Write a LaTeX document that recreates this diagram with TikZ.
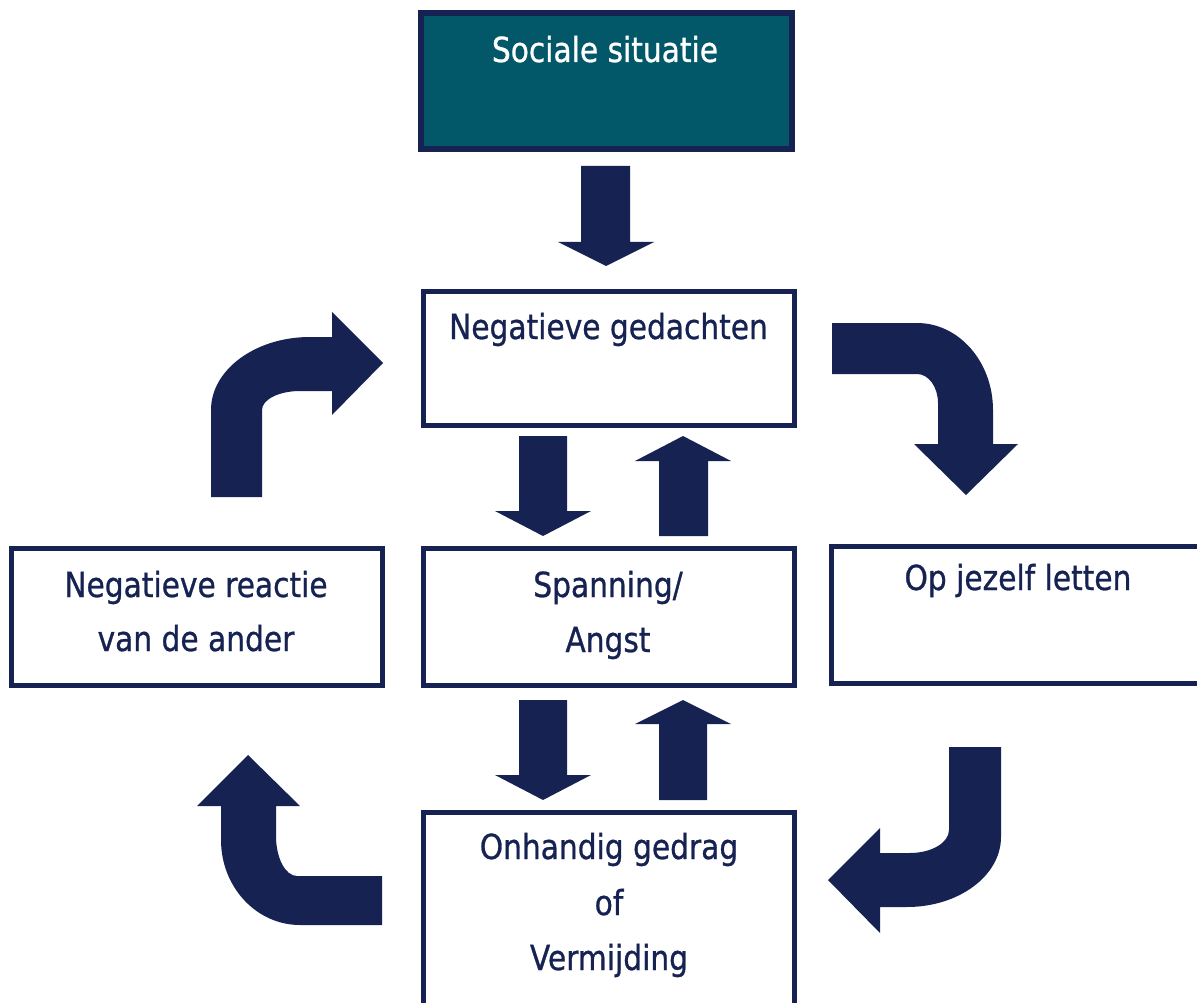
\documentclass[tikz,border=0pt]{standalone}
\usepackage{fontspec}
\setmainfont{DejaVu Sans}[FakeStretch=0.86,FakeBold=0.8]
\definecolor{navy}{RGB}{21,34,82}
\definecolor{teal}{RGB}{2,87,104}
\begin{document}
\begin{tikzpicture}[x=1pt,y=-1pt,
  box/.style={draw=navy,line width=5pt,fill=white,inner sep=0pt},
  topbox/.style={draw=navy,line width=6pt,fill=teal,inner sep=0pt},
  lbl/.style={anchor=base,inner sep=0pt,text=navy,font=\fontsize{34.5}{40}\selectfont},
  wlbl/.style={lbl,text=white},
  blk/.style={fill=navy,draw=none}]
\useasboundingbox (0,0) rectangle (1197,1003);
\fill[white] (0,0) rectangle (1197,1003);
% boxes
\node[topbox,minimum width=371pt,minimum height=136pt] (top) at (606.5,81) {};
\node[box,minimum width=371pt,minimum height=134pt] (ng) at (609,358.5) {};
\node[box,minimum width=371pt,minimum height=137pt] (sp) at (609,617) {};
\node[box,minimum width=371pt,minimum height=200pt] (on) at (609,912.5) {};
\node[box,minimum width=371pt,minimum height=137pt] (lf) at (197,617) {};
\node[box,minimum width=371pt,minimum height=137pt] (rt) at (1016.5,615) {};
% texts
\node[wlbl] (t1) at (605,62) {Sociale situatie};
\node[lbl] (t2) at (608.5,339) {Negatieve gedachten};
\node[lbl] (t3a) at (608,597) {Spanning/};
\node[lbl] (t3b) at (608,652) {Angst};
\node[lbl] (t4a) at (196,597) {Negatieve reactie};
\node[lbl] (t4b) at (196,651) {van de ander};
\node[lbl] (t5) at (1018,590) {Op jezelf letten};
\node[lbl] (t6a) at (609,859) {Onhandig gedrag};
\node[lbl] (t6b) at (609,915) {of};
\node[lbl] (t6c) at (609,970) {Vermijding};
% straight block arrows
\fill[blk] (581,166) -- (630,166) -- (630,242) -- (654,242) -- (606,266) -- (558,242) -- (581,242) -- cycle;
\fill[blk] (519,436) -- (567,436) -- (567,511) -- (591,511) -- (543,536) -- (495,511) -- (519,511) -- cycle;
\fill[blk] (659,536) -- (708,536) -- (708,461) -- (731,461) -- (683,436) -- (635,461) -- (659,461) -- cycle;
\fill[blk] (519,700) -- (567,700) -- (567,775) -- (591,775) -- (543,800) -- (495,775) -- (519,775) -- cycle;
\fill[blk] (659,800) -- (707,800) -- (707,724) -- (731,724) -- (683,700) -- (635,724) -- (659,724) -- cycle;
% curved block arrows
% top-left
\fill[blk] (211,497) -- (211,410) .. controls (211,369.7) and (255.4,337) .. (310,337)
  -- (332,337) -- (332,312) -- (383,363) -- (332,415) -- (332,391) -- (300,391)
  .. controls (279,391) and (262,399.5) .. (262,410) -- (262,497) -- cycle;
% top-right
\fill[blk] (832,323) -- (917,323) .. controls (959,323) and (993,362) .. (993,410)
  -- (993,444) -- (1018,444) -- (966,495) -- (914,444) -- (938,444) -- (938,403)
  .. controls (938,387) and (928.6,374) .. (917,374) -- (832,374) -- cycle;
% bottom-left
\fill[blk] (382,925) -- (300,925) .. controls (256.4,925) and (221,887) .. (221,840)
  -- (221,806) -- (197,806) -- (248,755) -- (300,806) -- (276,806) -- (276,836)
  .. controls (276,858) and (285.4,876) .. (297,876) -- (382,876) -- cycle;
% bottom-right
\fill[blk] (1001,747) -- (1001,837) .. controls (1001,875.6) and (958.9,907) .. (907,907)
  -- (880,907) -- (880,933) -- (828,880) -- (880,828) -- (880,853) -- (910,853)
  .. controls (931.5,853) and (949,842.7) .. (949,830) -- (949,747) -- cycle;
\end{tikzpicture}
\end{document}
